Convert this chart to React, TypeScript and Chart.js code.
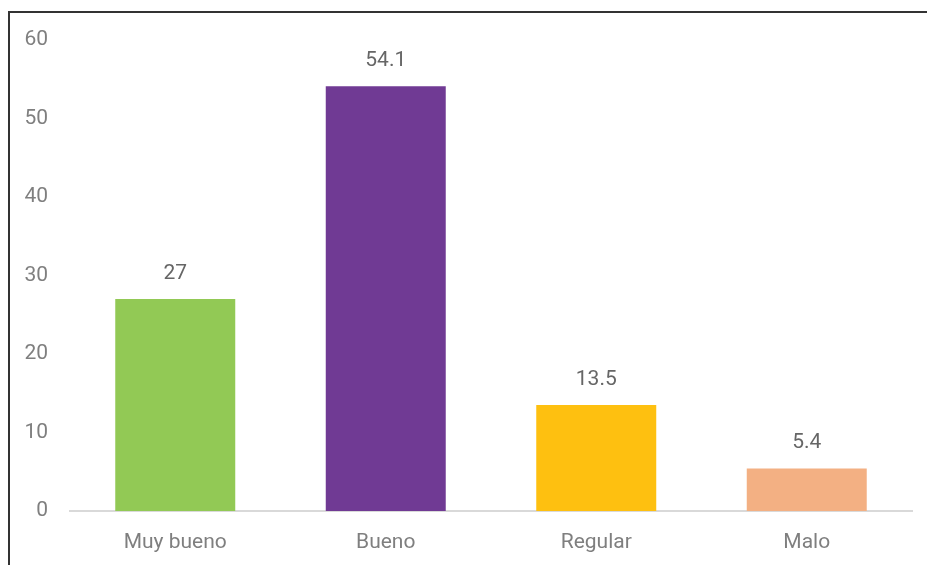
import React, { useEffect, useRef } from "react";
import { Chart, registerables } from "chart.js";

Chart.register(...registerables);

const categories = ["Muy bueno", "Bueno", "Regular", "Malo"];
const values = [27, 54.1, 13.5, 5.4];
const barColors = ["#92C955", "#703A94", "#FEC010", "#F3B083"];
const yTicks = [0, 10, 20, 30, 40, 50, 60];

const FONT = "Roboto, 'Liberation Sans', Arial, sans-serif";

const dataLabelPlugin = {
  id: "dataLabels",
  afterDatasetsDraw(chart: any) {
    const ctx = chart.ctx;
    const meta = chart.getDatasetMeta(0);
    ctx.save();
    ctx.font = `21px ${FONT}`;
    ctx.fillStyle = "#666666";
    ctx.textAlign = "center";
    ctx.textBaseline = "bottom";
    meta.data.forEach((bar: any, i: number) => {
      ctx.fillText(String(values[i]), bar.x, bar.y - 15);
    });
    ctx.restore();
  },
};

export default function App() {
  const ref = useRef<HTMLCanvasElement | null>(null);

  useEffect(() => {
    if (!ref.current) return;
    const chart = new Chart(ref.current, {
      type: "bar",
      data: {
        labels: categories,
        datasets: [
          {
            data: values,
            backgroundColor: barColors,
            borderWidth: 0,
            categoryPercentage: 1,
            barPercentage: 0.57,
          },
        ],
      },
      options: {
        animation: false,
        responsive: false,
        maintainAspectRatio: false,
        layout: { padding: { top: 40, right: 15, bottom: 0, left: 0 } },
        plugins: {
          legend: { display: false },
          tooltip: { enabled: false },
        },
        scales: {
          x: {
            grid: { display: false, drawTicks: false },
            border: { display: true, color: "#D9D9D9", width: 2 },
            ticks: {
              padding: 19,
              color: "#7F7F7F",
              font: { family: FONT, size: 21 },
            },
            afterFit: (s: any) => {
              s.height = 54;
            },
          },
          y: {
            min: 0,
            max: 60,
            grid: { display: false, drawTicks: false },
            border: { display: false },
            afterBuildTicks: (s: any) => {
              s.ticks = yTicks.map((v) => ({ value: v }));
            },
            ticks: {
              padding: 22,
              color: "#7F7F7F",
              font: { family: FONT, size: 21 },
            },
            afterFit: (s: any) => {
              s.width = 70;
            },
          },
        },
      },
      plugins: [dataLabelPlugin],
    });
    return () => chart.destroy();
  }, []);

  return (
    <div style={{ position: "absolute", left: 0, top: 0, width: 927, height: 565, background: "#fff", overflow: "hidden" }}>
      <canvas ref={ref} width={927} height={565} style={{ position: "absolute", left: 0, top: 0, width: 927, height: 565 }} />
      <div
        style={{
          position: "absolute",
          left: 8,
          top: 11,
          width: 930,
          height: 570,
          borderLeft: "2px solid #333333",
          borderTop: "2px solid #333333",
          pointerEvents: "none",
        }}
      />
    </div>
  );
}
